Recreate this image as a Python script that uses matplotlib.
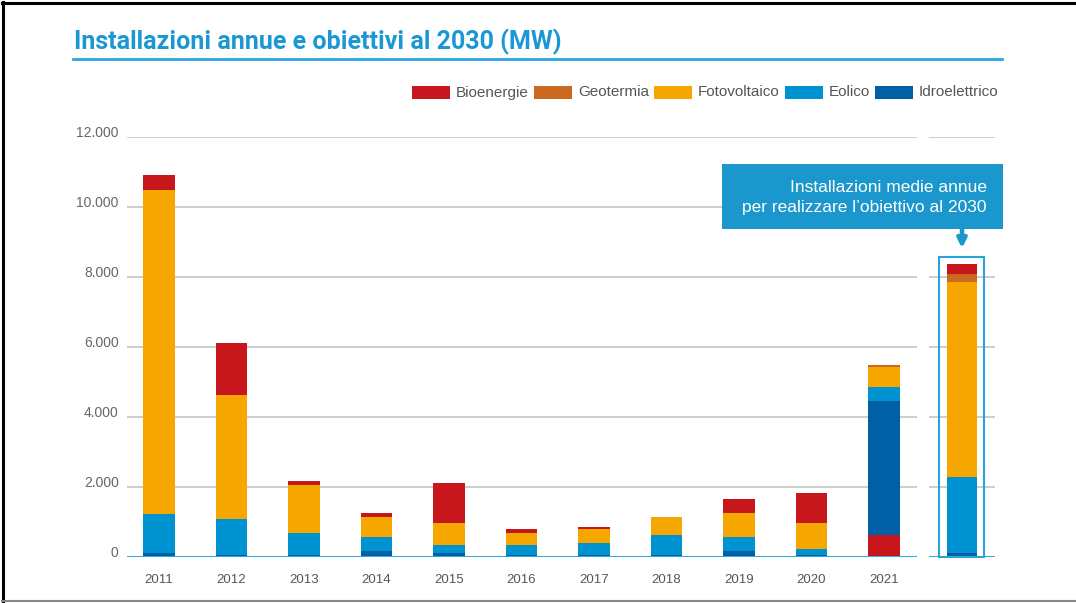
import matplotlib
matplotlib.use('Agg')
import matplotlib.pyplot as plt
from matplotlib.patches import Rectangle
from matplotlib.lines import Line2D
import numpy as np

# ---------------- data ----------------
years = ['2011', '2012', '2013', '2014', '2015', '2016', '2017', '2018', '2019', '2020', '2021']
series = ['Bioenergie', 'Geotermia', 'Fotovoltaico', 'Eolico', 'Idroelettrico']
bioenergie = [437, 1485, 122, 114, 1151, 123, 74, 0, 408, 866, 637]
geotermia = [0, 0, 0, 0, 0, 0, 0, 0, 0, 0, 60]
fotovoltaico = [9266, 3543, 1363, 571, 620, 343, 383, 523, 677, 734, 572]
eolico = [1114, 1037, 637, 400, 237, 285, 343, 571, 400, 180, 400]
idroelettrico = [114, 66, 66, 189, 123, 66, 74, 66, 189, 66, 3837]
# average yearly installations needed for the 2030 target (same series order)
target_values = [285, 229, 5554, 2189, 114]
target_text = 'Installazioni medie annue\nper realizzare l’obiettivo al 2030'
title = 'Installazioni annue e obiettivi al 2030 (MW)'
yticks = [0, 2000, 4000, 6000, 8000, 10000, 12000]
ytick_labels = ['0', '2.000', '4.000', '6.000', '8.000', '10.000', '12.000']

colors = {'Bioenergie': '#c7161c', 'Geotermia': '#c96a20', 'Fotovoltaico': '#f5a700',
          'Eolico': '#0093d2', 'Idroelettrico': '#0060a5'}
default_order = ['Idroelettrico', 'Eolico', 'Fotovoltaico', 'Geotermia', 'Bioenergie']
order_2021 = ['Bioenergie', 'Idroelettrico', 'Eolico', 'Fotovoltaico', 'Geotermia']

values = dict(zip(series, [bioenergie, geotermia, fotovoltaico, eolico, idroelettrico]))

# ---------------- layout ----------------
W, H = 1076, 603
fig = plt.figure(figsize=(W / 100, H / 100), dpi=100)
fig.patch.set_facecolor('white')

def fx(px):
    return px / W

def fy(py):
    return 1 - py / H

y0_px, ytop_px = 557.3, 137.3   # pixel positions of 0 and 12000
grid_col = '#c9c9c9'
base_col = '#35a8dc'
font = 'Liberation Sans'

ax = fig.add_axes([fx(127), fy(y0_px), fx(917) - fx(127), fy(ytop_px) - fy(y0_px)])
ax2 = fig.add_axes([fx(929), fy(y0_px), fx(995) - fx(929), fy(ytop_px) - fy(y0_px)])

for a in (ax, ax2):
    a.set_ylim(0, 12000)
    for s in a.spines.values():
        s.set_visible(False)
    a.set_yticks(yticks)
    a.grid(axis='y', color=grid_col, lw=1.3, zorder=0)
    a.set_axisbelow(True)
    a.axhline(0, color=base_col, lw=2.2, zorder=5)
    a.tick_params(length=0)

ax.set_xlim(-0.441, 10.455)
x = np.arange(len(years))
bw = 0.43
for i, yr in enumerate(years):
    order = order_2021 if yr == '2021' else default_order
    bottom = 0
    for s in order:
        v = values[s][i]
        if v > 0:
            ax.bar(x[i], v, bw, bottom=bottom, color=colors[s], lw=0, zorder=3)
        bottom += v

ax.set_xticks(x)
ax.set_xticklabels(years, fontsize=9.5, color='#555555', family=font)
ax.tick_params(axis='x', pad=12)
ax.set_yticklabels(ytick_labels, fontsize=10, color='#666666', family=font)
ax.tick_params(axis='y', pad=6)
for lab in ax.get_yticklabels():
    lab.set_verticalalignment('baseline')

# target panel
ax2.set_xlim(-0.5, 0.5)
ax2.set_xticks([])
ax2.set_yticklabels([])
bottom = 0
for s in default_order:
    v = target_values[series.index(s)]
    ax2.bar(0, v, 0.455, bottom=bottom, color=colors[s], lw=0, zorder=3)
    bottom += v
ax2.add_patch(Rectangle((-0.348, 0), 0.681, 8590, fill=False, ec='#2aa4d8', lw=1.5,
                        clip_on=False, zorder=6))
ax2.annotate('', xy=(0, 8830), xytext=(0, 9400),
             arrowprops=dict(arrowstyle='-|>', color='#1a97cc', lw=3.2, mutation_scale=13,
                             shrinkA=0, shrinkB=0),
             annotation_clip=False)

# annotation box
fig.patches.append(Rectangle((fx(722), fy(228.5)), fx(1003) - fx(722), fy(164) - fy(228.5),
                             transform=fig.transFigure, fc='#1a97cc', ec='none', zorder=1))
fig.text(fx(987), fy(197.5), target_text, ha='right', va='center', color='white',
         fontsize=12.5, family=font, linespacing=1.35)

# title and underline
fig.text(fx(74), fy(42), title, ha='left', va='center', color='#1b98d4',
         fontsize=18, fontweight='bold', family='Roboto')
fig.add_artist(Line2D([fx(73), fx(1002)], [fy(59), fy(59)], color='#2aa6dc', lw=2))

# legend (manual, chained from the left)
renderer = fig.canvas.get_renderer()
cur = 412.0
patch_w, gap_in, gap_out = 38, 6, 5
for s in series:
    fig.patches.append(Rectangle((fx(cur), fy(98.5)), fx(patch_w), fy(86.5) - fy(98.5),
                                 transform=fig.transFigure, fc=colors[s], ec='none'))
    t = fig.text(fx(cur + patch_w + gap_in), fy(92.5), s, ha='left', va='center',
                 fontsize=11, color='#555555', family=font)
    wpx = t.get_window_extent(renderer).width
    cur = cur + patch_w + gap_in + wpx + gap_out

# page frame
fig.add_artist(Line2D([fx(3), fx(3)], [fy(2), fy(603)], color='black', lw=2.2))
fig.add_artist(Line2D([fx(2), fx(1076)], [fy(3), fy(3)], color='black', lw=2.2))
fig.add_artist(Line2D([fx(2), fx(1076)], [fy(601), fy(601)], color='#888888', lw=1.5))

fig.savefig('out.png', dpi=100, facecolor='white')
